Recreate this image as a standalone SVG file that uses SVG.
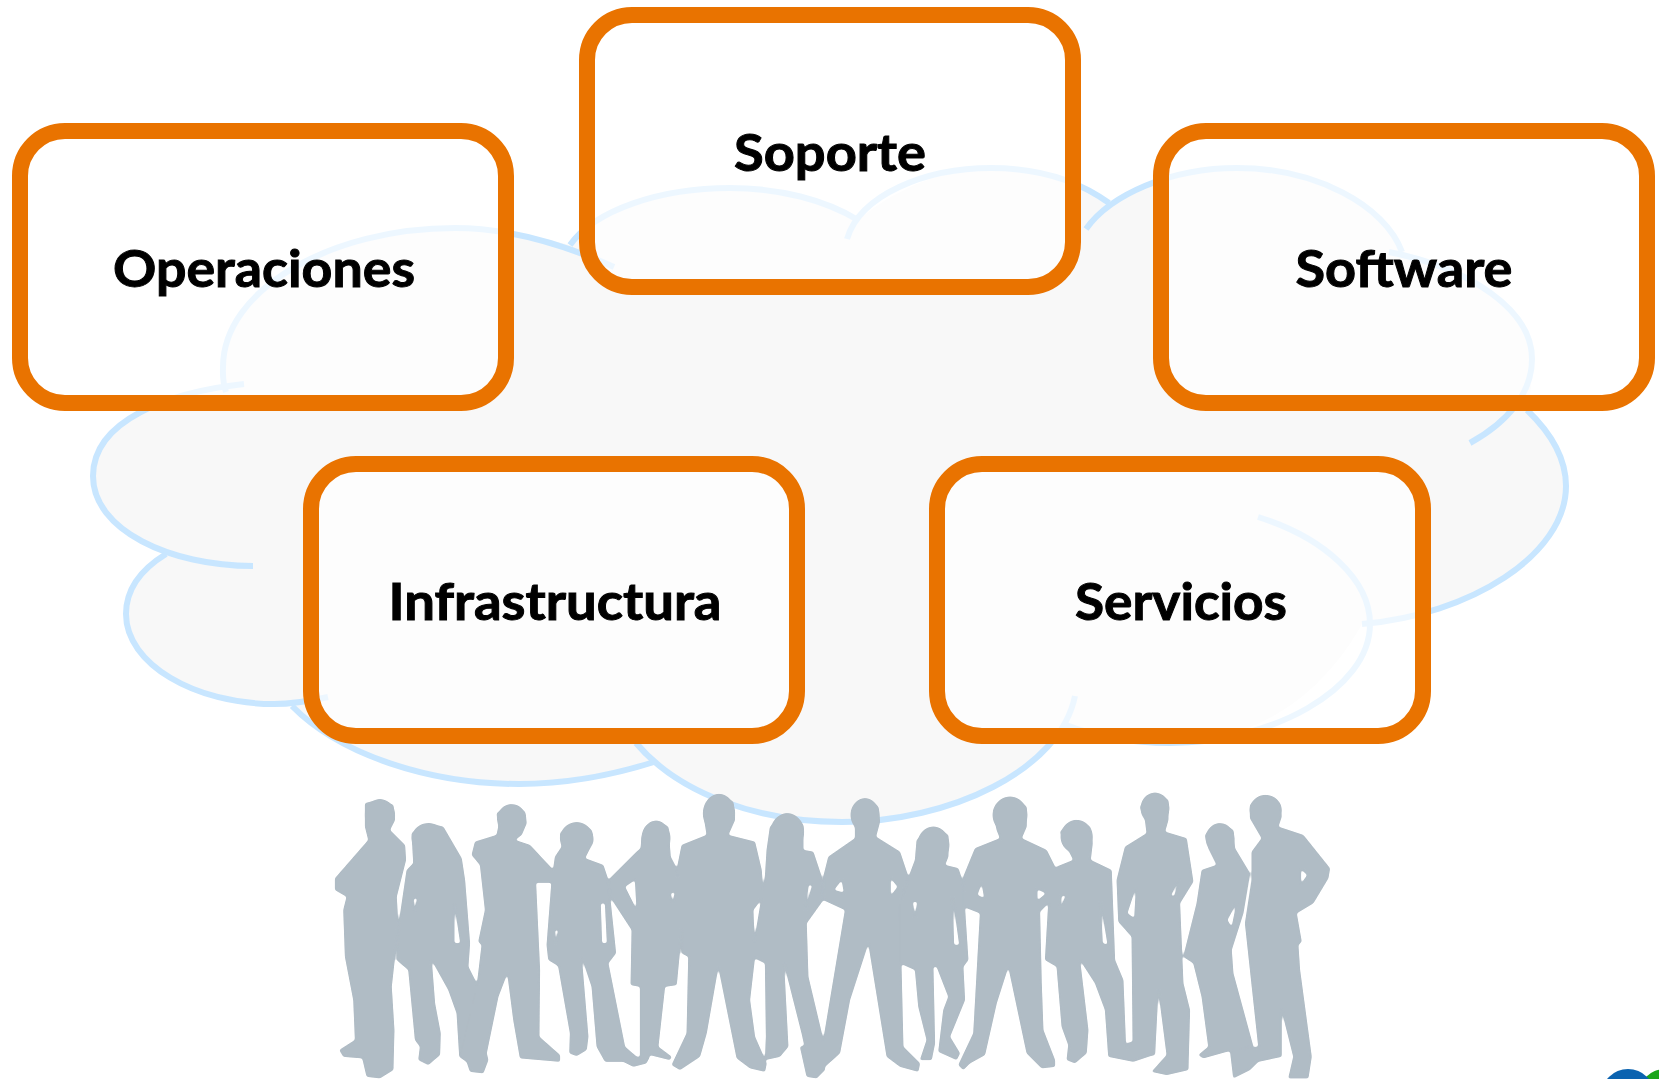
<svg xmlns="http://www.w3.org/2000/svg" width="1659" height="1079" viewBox="0 0 1659 1079">
<defs>
<filter id="soft" x="-5%" y="-5%" width="110%" height="110%" color-interpolation-filters="sRGB">
<feGaussianBlur stdDeviation="1.3"/>
<feComponentTransfer><feFuncA type="linear" slope="3.5" intercept="-1.25"/></feComponentTransfer>
</filter>
</defs>
<style>
.lobe{fill:none;stroke:#c8e6ff;stroke-width:6}
.box{fill:#fff;fill-opacity:.68;stroke:#e97300;stroke-width:16}
.lbl{font-family:"Lato","Liberation Sans",sans-serif;font-weight:700;font-size:52px;fill:#000;stroke:#000;stroke-width:1;text-anchor:middle}
.p{fill:#b0bcc5;stroke:#b0bcc5;stroke-width:1;stroke-linejoin:round;fill-rule:evenodd}
</style>
<rect width="1659" height="1079" fill="#fff"/>
<g id="cloud">
<path fill="#f8f8f8" d="M226 390C150 400 93 430 93 476C93 510 125 540 166 554C140 570 126 590 126 614C126 664 195 704 274 704L292 706C340 755 430 784 519 784C565 784 610 776 654 762C700 803 770 822 842 822C950 822 1030 780 1066 725C1100 738 1135 743 1170 743C1250 743 1320 700 1362 624C1470 615 1566 555 1566 486C1566 458 1550 432 1527 410C1532 390 1532 375 1532 359C1532 310 1470 268 1402 252C1385 205 1315 168 1237 168C1190 168 1140 180 1106 205C1080 182 1040 168 991 168C950 168 900 185 858 220C825 200 780 188 730 188C660 188 600 210 570 245C530 235 510 228 455 228C330 228 223 290 223 367C223 372 222 380 226 390Z"/>
<path class="lobe" d="M244 384C170 392 93 420 93 476C93 530 170 566 253 566"/>
<path class="lobe" d="M166 554C140 570 126 590 126 614C126 664 195 704 274 704C293 704 310 701 328 697"/>
<path class="lobe" d="M292 706C340 755 430 784 519 784C565 784 610 776 654 762"/>
<path class="lobe" d="M636 743C680 795 760 822 842 822C950 822 1060 770 1075 696"/>
<path class="lobe" d="M1066 725C1100 738 1135 743 1170 743C1270 743 1370 690 1370 624C1370 580 1325 538 1258 517"/>
<path class="lobe" d="M1362 624C1470 615 1566 555 1566 486C1566 458 1550 432 1527 410"/>
<path class="lobe" d="M1389 252C1470 268 1532 310 1532 359C1532 393 1508 422 1470 443"/>
<path class="lobe" d="M1086 229C1110 195 1170 168 1237 168C1315 168 1385 205 1402 252"/>
<path class="lobe" d="M847 239C860 195 925 168 991 168C1040 168 1080 182 1109 203"/>
<path class="lobe" d="M570 245C595 210 660 188 730 188C780 188 825 200 858 220"/>
<path class="lobe" d="M226 392C222 380 223 372 223 367C223 290 330 228 455 228C510 228 565 245 614 267"/>
</g>
<g id="people" filter="url(#soft)">
<g transform="translate(300 770) scale(.33333)">
<path class="p" d="M195 100L240 88L280 105L285 150L270 180L315 225L318 270L290 380L295 470L285 560L275 650L283 780L280 900L240 925L200 920L187 865L130 860L118 840L165 810L160 690L135 560L130 420L140 380L105 360L105 325L205 210L195 170Z"/>
<ellipse class="p" cx="240" cy="135" rx="45" ry="47"/>
<path class="p" d="M335 190L385 160L430 170L485 265L495 330L510 520L505 590L530 640L560 870L500 875L478 860L470 730L445 660L395 570L405 700L422 790L420 855L385 885L355 870L360 830L345 810L325 600L290 570L295 470L320 300L340 280ZM341 385L352 385L342 425ZM463 400L481 520L463 520Z"/>
<ellipse class="p" cx="385" cy="205" rx="50" ry="45"/>
<path class="p" d="M590 130L630 103L675 125L680 160L665 195L645 210L690 225L760 300L760 338L708 338L720 600L718 800L780 855L780 875L660 865L640 750L622 610L595 680L560 850L565 870L550 910L510 905L500 875L480 860L530 650L545 525L535 515L555 420L540 285L515 255L525 215L590 195L595 170Z"/>
<ellipse class="p" cx="635" cy="145" rx="43" ry="42"/>
<path class="p" d="M780 190L830 157L875 180L880 215L855 265L910 285L925 330L945 520L948 550L925 580L965 780L975 830L1010 860L1045 865L1040 880L1000 890L970 875L915 875L890 830L875 650L845 560L865 800L860 840L830 858L808 850L810 790L775 590L770 585L745 570L740 525L755 330L765 260L785 230ZM902 400L915 400L921 520L906 520ZM765 480L775 480L766 520Z"/>
<ellipse class="p" cx="830" cy="205" rx="50" ry="48"/>
<path class="p" d="M1025 200L1070 152L1105 170L1112 260L1130 295L1150 430L1140 540L1130 645L1095 650L1075 830L1115 860L1110 870L1050 855L1045 870L1020 865L1020 650L992 645L995 480L930 380L925 330L1010 245L1022 235ZM975 350L1005 330L1010 420ZM1112 370L1125 365L1118 400Z"/>
<ellipse class="p" cx="1068" cy="205" rx="43" ry="53"/>
<path class="p" d="M1410 170L1460 130L1510 165L1510 240L1540 245L1565 320L1570 390L1520 460L1525 620L1570 810L1575 900L1550 925L1525 880L1505 790L1452 580L1465 830L1440 860L1395 870L1398 800L1395 580L1355 560L1375 440L1395 320L1400 240ZM1526 345L1537 345L1515 420Z"/>
<ellipse class="p" cx="1462" cy="185" rx="50" ry="55"/>
<path class="p" d="M1210 130L1255 72L1300 95L1305 150L1285 195L1365 215L1385 300L1390 380L1360 420L1365 560L1350 690L1365 800L1400 880L1395 905L1350 895L1310 865L1255 590L1220 790L1200 860L1140 900L1115 885L1160 790L1165 560L1145 550L1145 440L1130 300L1145 225L1220 195Z"/>
<ellipse class="p" cx="1257" cy="130" rx="48" ry="58"/>
</g>
<g transform="translate(800 770) scale(.33333)">
<path class="p" d="M155 120L195 85L235 110L240 155L228 200L300 245L325 320L300 405L310 830L360 880L355 905L300 890L260 860L205 520L150 690L120 850L75 890L50 925L20 920L0 830L70 810L135 420L70 390L70 320L85 260L165 205L165 175ZM102 360L125 330L132 368ZM272 325L293 350L272 378Z"/>
<ellipse class="p" cx="195" cy="135" rx="43" ry="50"/>
<path class="p" d="M350 210L400 170L445 195L445 260L435 285L475 295L490 340L505 570L490 590L495 690L450 800L480 850L470 870L415 845L430 720L445 680L410 590L400 590L405 820L395 870L360 870L380 810L355 710L345 600L300 580L300 400L330 310L345 270ZM338 395L352 395L345 440ZM458 380L478 525L462 525Z"/>
<ellipse class="p" cx="400" cy="225" rx="48" ry="55"/>
<path class="p" d="M580 120L630 80L680 110L680 170L665 205L740 240L770 300L755 390L720 425L725 640L730 780L765 870L765 890L725 895L680 850L625 590L590 700L555 855L510 880L490 900L475 885L520 790L540 430L490 410L490 320L525 235L600 205L590 180ZM545 340L553 385L532 375ZM712 358L738 370L712 392Z"/>
<ellipse class="p" cx="630" cy="135" rx="52" ry="55"/>
<path class="p" d="M780 185L825 150L870 170L878 220L872 270L935 300L945 570L970 630L978 830L1060 855L1000 875L925 860L915 720L885 640L840 570L865 780L860 850L825 880L800 870L805 825L785 770L770 590L735 570L745 400L770 290L820 270L800 230ZM785 378L798 375L780 418ZM902 395L923 525L908 520Z"/>
<ellipse class="p" cx="830" cy="200" rx="48" ry="50"/>
<path class="p" d="M1020 110L1065 68L1105 90L1105 150L1095 185L1160 205L1180 335L1140 400L1150 640L1170 720L1165 900L1100 915L1055 905L1100 855L1075 660L1065 855L990 860L980 820L998 815L995 500L955 455L950 330L975 230L1040 190L1035 150ZM982 430L1008 350L1003 445ZM1112 378L1138 325L1123 378Z"/>
<ellipse class="p" cx="1065" cy="115" rx="43" ry="47"/>
<path class="p" d="M1215 195L1255 160L1300 180L1305 235L1350 310L1330 430L1295 540L1300 610L1360 830L1280 845L1210 865L1195 855L1225 830L1205 680L1180 580L1150 560L1190 400L1205 300L1250 285L1225 235ZM1310 398L1282 450L1295 472Z"/>
<ellipse class="p" cx="1260" cy="205" rx="43" ry="45"/>
<path class="p" d="M1350 105L1395 75L1440 105L1445 140L1435 170L1510 195L1590 295L1585 325L1540 400L1490 430L1505 515L1495 525L1500 600L1535 860L1525 925L1465 925L1480 860L1445 720L1445 860L1375 875L1350 900L1300 925L1290 840L1375 830L1335 460L1355 330L1355 245L1385 205L1350 145ZM1503 298L1522 315L1503 342Z"/>
<ellipse class="p" cx="1397" cy="120" rx="48" ry="45"/>
</g>
</g>
<g id="logo">
<circle cx="1665" cy="1096" r="27" fill="#1aa51a"/>
<circle cx="1628" cy="1096" r="27" fill="#0b63b0"/>
</g>
<g id="node-operaciones">
<rect class="box" x="20" y="131" width="486" height="272" rx="45" ry="45"/>
<text class="lbl" x="264" y="287" textLength="302" lengthAdjust="spacingAndGlyphs">Operaciones</text>
</g>
<g id="node-soporte">
<rect class="box" x="587" y="15" width="486" height="272" rx="45" ry="45"/>
<text class="lbl" x="830" y="171" textLength="192" lengthAdjust="spacingAndGlyphs">Soporte</text>
</g>
<g id="node-software">
<rect class="box" x="1161" y="131" width="486" height="272" rx="45" ry="45"/>
<text class="lbl" x="1404" y="287" textLength="217" lengthAdjust="spacingAndGlyphs">Software</text>
</g>
<g id="node-infraestructura">
<rect class="box" x="311" y="464" width="486" height="272" rx="45" ry="45"/>
<text class="lbl" x="555" y="620" textLength="333" lengthAdjust="spacingAndGlyphs">Infrastructura</text>
</g>
<g id="node-servicios">
<rect class="box" x="937" y="464" width="486" height="272" rx="45" ry="45"/>
<text class="lbl" x="1181" y="620" textLength="212" lengthAdjust="spacingAndGlyphs">Servicios</text>
</g>
</svg>
